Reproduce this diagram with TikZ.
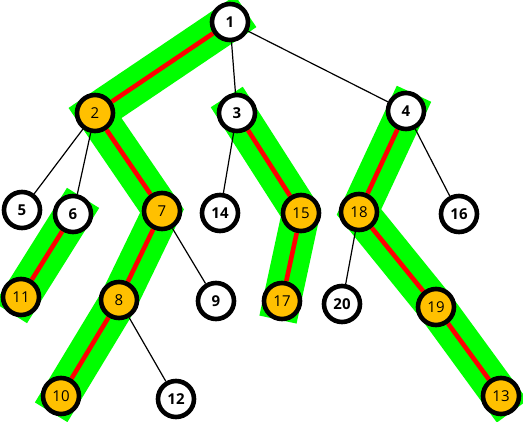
\documentclass[tikz,border=0pt]{standalone}
\usepackage{fontspec}
\setmainfont{Open Sans}

\definecolor{bandgreen}{RGB}{0,255,0}
\definecolor{heavyorange}{RGB}{255,192,0}

\pgfdeclarelayer{bands}
\pgfdeclarelayer{edges}
\pgfsetlayers{bands,edges,main}

\tikzset{
	vtx/.style={circle, draw, line width=4.6pt, minimum size=36pt, inner sep=0pt, fill=white, font=\fontsize{15}{16}\selectfont\bfseries},
	hvtx/.style={vtx, fill=heavyorange, font=\fontsize{15}{16}\selectfont},
	light/.style={line width=1.2pt},
	heavy/.style={red, line width=4.6pt},
	band/.style={bandgreen, line width=38pt, line cap=rect, line join=miter}
}

\begin{document}
\begin{tikzpicture}[x=1pt, y=-1pt]

	\useasboundingbox (0,0) rectangle (523,422);

	% Noder
	\node [vtx]  (n1)  at (230,22)  {1};
	\node [hvtx] (n2)  at (95,113)  {2};
	\node [vtx]  (n3)  at (237,113) {3};
	\node [vtx]  (n4)  at (406,111) {4};
	\node [vtx]  (n5)  at (22,210)  {5};
	\node [vtx]  (n6)  at (73,214)  {6};
	\node [hvtx] (n7)  at (162,211) {7};
	\node [hvtx] (n8)  at (119,300) {8};
	\node [vtx]  (n9)  at (216,301) {9};
	\node [hvtx] (n10) at (61,396)  {10};
	\node [hvtx] (n11) at (21,297)  {11};
	\node [vtx]  (n12) at (176,399) {12};
	\node [hvtx] (n13) at (501,396) {13};
	\node [vtx]  (n14) at (220,213) {14};
	\node [hvtx] (n15) at (301,213) {15};
	\node [vtx]  (n16) at (459,214) {16};
	\node [hvtx] (n17) at (282,301) {17};
	\node [hvtx] (n18) at (359,212) {18};
	\node [hvtx] (n19) at (436,307) {19};
	\node [vtx]  (n20) at (342,304) {20};

	% Tunge stier
	\begin{pgfonlayer}{bands}
		\draw [band] (n1.center) -- (n2.center) -- (n7.center) -- (n8.center) -- (n10.center);
		\draw [band] (n3.center) -- (n15.center) -- (n17.center);
		\draw [band] (n4.center) -- (n18.center) -- (n19.center) -- (n13.center);
		\draw [band] (n6.center) -- (n11.center);
	\end{pgfonlayer}

	% Kanter
	\begin{pgfonlayer}{edges}
		\draw [heavy] (n1) -- (n2);
		\draw [heavy] (n2) -- (n7);
		\draw [heavy] (n7) -- (n8);
		\draw [heavy] (n8) -- (n10);
		\draw [heavy] (n3) -- (n15);
		\draw [heavy] (n15) -- (n17);
		\draw [heavy] (n4) -- (n18);
		\draw [heavy] (n18) -- (n19);
		\draw [heavy] (n19) -- (n13);
		\draw [heavy] (n6) -- (n11);

		\draw [light] (n1) -- (n3);
		\draw [light] (n1) -- (n4);
		\draw [light] (n2) -- (n5);
		\draw [light] (n2) -- (n6);
		\draw [light] (n7) -- (n9);
		\draw [light] (n8) -- (n12);
		\draw [light] (n3) -- (n14);
		\draw [light] (n4) -- (n16);
		\draw [light] (n18) -- (n20);
	\end{pgfonlayer}

\end{tikzpicture}
\end{document}
